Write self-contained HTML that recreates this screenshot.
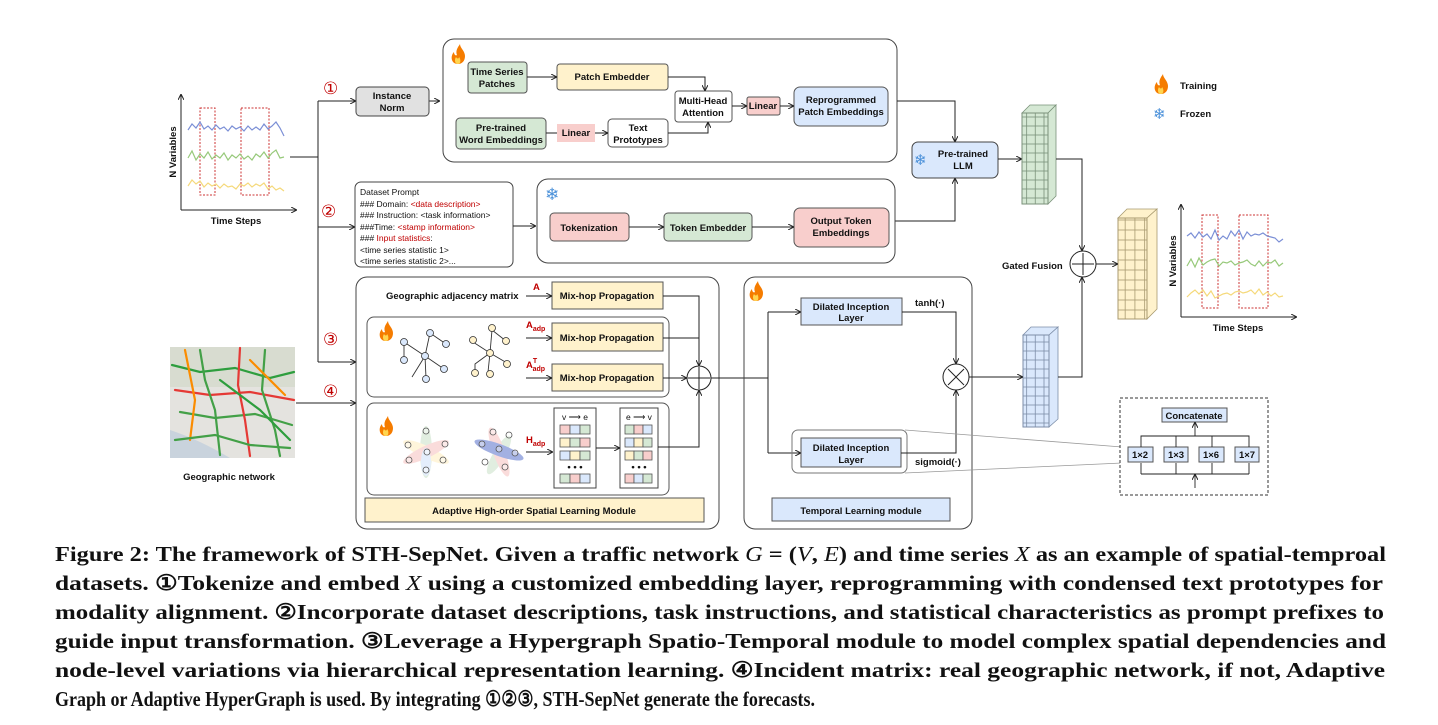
<!DOCTYPE html>
<html><head><meta charset="utf-8">
<style>
html,body{margin:0;padding:0;background:#fff;}
svg{display:block;}
text{font-family:"Liberation Sans",Arial,sans-serif;}
.b{font-weight:bold;font-size:9.5px;fill:#111;}
.s{font-size:8.5px;fill:#111;}
.r{fill:#c00000;}
.cap{font-family:"Liberation Serif","DejaVu Serif",serif;font-weight:bold;font-size:21.5px;fill:#111;}
</style></head>
<body>
<svg width="1438" height="725" viewBox="0 0 1438 725" xmlns="http://www.w3.org/2000/svg">
<defs>
<marker id="ar" markerWidth="6" markerHeight="6" refX="5" refY="3" orient="auto" markerUnits="userSpaceOnUse"><path d="M0,0 L6,3 L0,6" fill="none" stroke="#222" stroke-width="1"/></marker>
<pattern id="gG" width="8.7" height="9" patternUnits="userSpaceOnUse"><rect width="8.7" height="9" fill="#d5e8d4" stroke="#7a917a" stroke-width="0.8"/></pattern>
<pattern id="gY" width="9.7" height="10" patternUnits="userSpaceOnUse"><rect width="9.7" height="10" fill="#fff2cc" stroke="#a89a70" stroke-width="0.8"/></pattern>
<pattern id="gB" width="8.7" height="9" patternUnits="userSpaceOnUse"><rect width="8.7" height="9" fill="#dae8fc" stroke="#7d8ea8" stroke-width="0.8"/></pattern>
<g id="flame"><path d="M0,14 C-7,14 -8,6 -4,2 C-4,5 -2,6 -1,5 C-3,0 1,-4 2,-6 C2,-2 7,1 7,6 C7,11 4,14 0,14Z" fill="#f57c00"/><path d="M0,14 C-3,14 -4,10 -2,7 C-1,9 1,9 1,7 C3,9 3,14 0,14Z" fill="#ffd54f"/></g>
</defs>

<g stroke="#222" stroke-width="1" fill="none">
<path d="M181,210 V95" marker-end="url(#ar)"/>
<path d="M181,210 H296" marker-end="url(#ar)"/>
</g>
<rect x="200" y="108" width="15" height="87" fill="none" stroke="#c33" stroke-dasharray="2,1.5"/>
<rect x="241" y="108" width="28" height="87" fill="none" stroke="#c33" stroke-dasharray="2,1.5"/>
<polyline points="188,130 192,124 196,128 200,122 204,129 208,126 212,130 216,125 220,129 224,127 228,131 232,126 236,129 240,127 244,131 248,126 252,130 256,127 260,130 264,124 268,129 272,126 276,122 280,128 284,136" fill="none" stroke="#7b8fd6" stroke-width="1.2"/>
<polyline points="188,158 192,151 196,160 200,154 204,158 208,152 212,159 216,155 220,158 224,153 228,160 232,155 236,158 240,154 244,159 248,156 252,160 256,154 260,157 264,152 268,158 272,153 276,150 280,158 284,157" fill="none" stroke="#97c97a" stroke-width="1.2"/>
<polyline points="188,186 192,180 196,184 200,181 204,187 208,183 212,186 216,184 220,188 224,184 228,187 232,186 236,189 240,184 244,186 248,183 252,187 256,184 260,186 264,183 268,189 272,186 276,190 280,188 284,191" fill="none" stroke="#f5d97a" stroke-width="1.2"/>
<text class="b" transform="translate(176,152) rotate(-90)" text-anchor="middle">N Variables</text>
<text class="b" x="236" y="224" text-anchor="middle">Time Steps</text>

<g stroke="#222" stroke-width="1" fill="none">
<path d="M290,157 H318"/>
<path d="M318,101 V362"/>
<path d="M318,101 H355" marker-end="url(#ar)"/>
<path d="M318,227 H354" marker-end="url(#ar)"/>
<path d="M318,362 H355" marker-end="url(#ar)"/>
<path d="M296,403 H355" marker-end="url(#ar)"/>
<path d="M429,101 H439" marker-end="url(#ar)"/>
</g>
<g font-family="'DejaVu Sans',sans-serif" font-size="17" fill="#c00000">
<text x="323" y="94">①</text><text x="321" y="217">②</text><text x="323" y="345">③</text><text x="323" y="397">④</text>
</g>

<rect x="356" y="87" width="73" height="29" rx="4" fill="#e1e1e1" stroke="#444"/>
<text class="b" x="392" y="99" text-anchor="middle" font-size="10">Instance</text>
<text class="b" x="392" y="111" text-anchor="middle" font-size="10">Norm</text>

<rect x="443" y="39" width="454" height="123" rx="11" fill="none" stroke="#444"/>
<use href="#flame" x="458" y="50"/>
<rect x="468" y="62" width="59" height="31" rx="3" fill="#d5e8d4" stroke="#555"/>
<text class="b" x="497" y="75" text-anchor="middle">Time Series</text><text class="b" x="497" y="87" text-anchor="middle">Patches</text>
<rect x="557" y="64" width="111" height="26" rx="3" fill="#fff2cc" stroke="#555"/>
<text class="b" x="612" y="80" text-anchor="middle">Patch  Embedder</text>
<rect x="675" y="91" width="57" height="31" rx="3" fill="#fff" stroke="#555"/>
<text class="b" x="703" y="104" text-anchor="middle">Multi-Head</text><text class="b" x="703" y="116" text-anchor="middle">Attention</text>
<rect x="747" y="97" width="33" height="18" rx="2" fill="#f8cecc" stroke="#555"/>
<text class="b" x="763" y="109" text-anchor="middle">Linear</text>
<rect x="794" y="87" width="94" height="39" rx="6" fill="#dae8fc" stroke="#555"/>
<text class="b" x="841" y="103" text-anchor="middle">Reprogrammed</text><text class="b" x="841" y="115" text-anchor="middle">Patch Embeddings</text>
<rect x="456" y="118" width="90" height="31" rx="4" fill="#d5e8d4" stroke="#555"/>
<text class="b" x="501" y="131" text-anchor="middle">Pre-trained</text><text class="b" x="501" y="143" text-anchor="middle">Word Embeddings</text>
<rect x="557" y="124" width="38" height="18" fill="#f8cecc"/>
<text class="b" x="576" y="136" text-anchor="middle">Linear</text>
<rect x="608" y="119" width="60" height="28" rx="4" fill="#fff" stroke="#555"/>
<text class="b" x="638" y="131" text-anchor="middle">Text</text><text class="b" x="638" y="143" text-anchor="middle">Prototypes</text>
<g stroke="#222" fill="none">
<path d="M527,77 H556" marker-end="url(#ar)"/>
<path d="M668,77 H705 V90" marker-end="url(#ar)"/>
<path d="M668,133 H708 V123" marker-end="url(#ar)"/>
<path d="M546,133 H557"/><path d="M595,133 H607" marker-end="url(#ar)"/>
<path d="M732,106 H746" marker-end="url(#ar)"/>
<path d="M780,106 H793" marker-end="url(#ar)"/>
<path d="M897,101 H955 V141" marker-end="url(#ar)"/>
<path d="M895,221 H955 V179" marker-end="url(#ar)"/>
</g>

<rect x="355" y="182" width="158" height="85" rx="6" fill="#fff" stroke="#444"/>
<g class="s">
<text x="360" y="195">Dataset Prompt</text>
<text x="360" y="207">### Domain: <tspan class="r">&lt;data description&gt;</tspan></text>
<text x="360" y="218">### Instruction: &lt;task information&gt;</text>
<text x="360" y="230">###Time: <tspan class="r">&lt;stamp information&gt;</tspan></text>
<text x="360" y="241">### <tspan class="r">Input statistics</tspan>:</text>
<text x="360" y="253">&lt;time series statistic 1&gt;</text>
<text x="360" y="264">&lt;time series statistic 2&gt;...</text>
</g>
<path d="M513,226 H535" stroke="#222" fill="none" marker-end="url(#ar)"/>
<rect x="537" y="179" width="358" height="84" rx="11" fill="none" stroke="#444"/>
<text x="545" y="200" font-family="'DejaVu Sans',sans-serif" font-size="17" fill="#4a90d9">❄</text>
<rect x="550" y="213" width="79" height="28" rx="4" fill="#f8cecc" stroke="#555"/>
<text class="b" x="589" y="231" text-anchor="middle">Tokenization</text>
<rect x="664" y="213" width="88" height="28" rx="4" fill="#d5e8d4" stroke="#555"/>
<text class="b" x="708" y="231" text-anchor="middle">Token Embedder</text>
<rect x="794" y="208" width="95" height="39" rx="6" fill="#f8cecc" stroke="#555"/>
<text class="b" x="841" y="224" text-anchor="middle">Output Token</text><text class="b" x="841" y="236" text-anchor="middle">Embeddings</text>
<g stroke="#222" fill="none">
<path d="M629,227 H663" marker-end="url(#ar)"/>
<path d="M752,227 H793" marker-end="url(#ar)"/>
</g>

<rect x="912" y="142" width="86" height="36" rx="6" fill="#dae8fc" stroke="#444"/>
<text x="914" y="165" font-family="'DejaVu Sans',sans-serif" font-size="15" fill="#4a90d9">❄</text>
<text class="b" x="963" y="157" text-anchor="middle" font-size="10.5">Pre-trained</text><text class="b" x="963" y="169" text-anchor="middle" font-size="10.5">LLM</text>
<path d="M998,159 H1021" stroke="#222" fill="none" marker-end="url(#ar)"/>

<polygon points="1022,113 1030,105 1056,105 1048,113" fill="#d5e8d4" stroke="#7a917a" stroke-width="0.8"/>
<polygon points="1048,113 1056,105 1056,196 1048,204" fill="#d5e8d4" stroke="#7a917a" stroke-width="0.8"/>
<rect x="1022" y="113" width="26" height="91" fill="url(#gG)" stroke="#7a917a"/>
<polygon points="1118,218 1127,209 1157,209 1147,218" fill="#fff2cc" stroke="#a89a70" stroke-width="0.8"/>
<polygon points="1147,218 1157,209 1157,309 1147,319" fill="#fff2cc" stroke="#a89a70" stroke-width="0.8"/>
<rect x="1118" y="218" width="29" height="101" fill="url(#gY)" stroke="#a89a70"/>
<polygon points="1023,335 1031,327 1058,327 1049,335" fill="#dae8fc" stroke="#7d8ea8" stroke-width="0.8"/>
<polygon points="1049,335 1058,327 1058,419 1049,427" fill="#dae8fc" stroke="#7d8ea8" stroke-width="0.8"/>
<rect x="1023" y="335" width="26" height="92" fill="url(#gB)" stroke="#7d8ea8"/>

<g stroke="#222" fill="none">
<path d="M1056,159 H1082 V250" marker-end="url(#ar)"/>
<path d="M1058,377 H1082 V278" marker-end="url(#ar)"/>
<path d="M1096,264 H1117" marker-end="url(#ar)"/>
<circle cx="1083" cy="264" r="13" fill="#fff"/>
<path d="M1083,253 V275 M1072,264 H1094"/>
</g>
<text class="b" x="1002" y="269" font-size="10">Gated Fusion</text>

<use href="#flame" x="1161" y="80"/>
<text class="b" x="1180" y="89">Training</text>
<text x="1153" y="119" font-family="'DejaVu Sans',sans-serif" font-size="15" fill="#4a90d9">❄</text>
<text class="b" x="1180" y="117">Frozen</text>

<g stroke="#222" fill="none">
<path d="M1181,317 V205" marker-end="url(#ar)"/>
<path d="M1181,317 H1296" marker-end="url(#ar)"/>
</g>
<rect x="1202" y="215" width="16" height="93" fill="none" stroke="#c33" stroke-dasharray="2,1.5"/>
<rect x="1239" y="215" width="29" height="93" fill="none" stroke="#c33" stroke-dasharray="2,1.5"/>
<polyline points="1187,236 1191,233 1195,238 1199,232 1203,237 1207,234 1211,239 1215,230 1219,240 1223,236 1227,239 1231,231 1235,236 1239,230 1243,239 1247,232 1251,236 1255,234 1259,235 1263,233 1267,236 1271,237 1275,238 1279,242 1283,239" fill="none" stroke="#7b8fd6" stroke-width="1.2"/>
<polyline points="1187,266 1191,259 1195,267 1199,258 1203,265 1207,262 1211,260 1215,259 1219,266 1223,262 1227,263 1231,261 1235,265 1239,263 1243,262 1247,260 1251,264 1255,266 1259,261 1263,266 1267,262 1271,263 1275,260 1279,266 1283,263" fill="none" stroke="#97c97a" stroke-width="1.2"/>
<polyline points="1187,297 1191,293 1195,290 1199,294 1203,290 1207,296 1211,291 1215,298 1219,296 1223,294 1227,293 1231,295 1235,292 1239,291 1243,293 1247,292 1251,290 1255,294 1259,289 1263,295 1267,292 1271,296 1275,293 1279,297 1283,296" fill="none" stroke="#f5d97a" stroke-width="1.2"/>
<text class="b" transform="translate(1176,261) rotate(-90)" text-anchor="middle">N Variables</text>
<text class="b" x="1238" y="331" text-anchor="middle">Time Steps</text>

<rect x="170" y="347" width="125" height="111" fill="#e4e3df"/>
<rect x="170" y="347" width="125" height="40" fill="#d8dcd0"/>
<path d="M170,430 Q200,440 230,458 L170,458Z" fill="#c9d3dd"/>
<g fill="none" stroke-width="2.2" stroke-linecap="round">
<path d="M172,365 L200,372 L235,368 L270,378 L294,372" stroke="#2e9e3e"/>
<path d="M175,390 L210,395 L250,392 L294,400" stroke="#e53935"/>
<path d="M180,412 L215,418 L255,414 L292,425" stroke="#43a047"/>
<path d="M200,350 L205,380 L215,410 L220,455" stroke="#43a047"/>
<path d="M240,348 L238,385 L245,420 L250,456" stroke="#e53935"/>
<path d="M265,350 L262,390 L275,430 L280,456" stroke="#43a047"/>
<path d="M185,350 L195,400 L190,440" stroke="#fb8c00"/>
<path d="M220,380 L260,410 L290,440" stroke="#2e9e3e"/>
<path d="M175,440 L215,435 L250,445 L290,448" stroke="#43a047"/>
<path d="M250,360 L285,395" stroke="#fb8c00"/>
</g>
<text class="b" x="229" y="480" text-anchor="middle">Geographic network</text>

<rect x="356" y="277" width="363" height="252" rx="11" fill="none" stroke="#444"/>
<text class="b" x="386" y="299">Geographic adjacency matrix</text>
<text class="b r" x="533" y="290">A</text>
<rect x="552" y="282" width="111" height="27" fill="#fff2cc" stroke="#555"/>
<text class="b" x="607" y="299" text-anchor="middle">Mix-hop Propagation</text>
<rect x="367" y="317" width="302" height="80" rx="7" fill="none" stroke="#555"/>
<use href="#flame" x="386" y="327"/>
<g stroke="#333" stroke-width="0.9" fill="none">
<path d="M404,342 L425,356 L430,333 L446,344 M425,356 L412,377 M425,356 L444,369 M425,356 L426,378 M404,342 L404,358"/>
<path d="M492,330 L490,353 L473,342 M490,353 L475,364 L475,373 M490,353 L507,363 M490,353 L488,372 M492,330 L506,341"/>
</g>
<g fill="#dae8fc" stroke="#333" stroke-width="0.8">
<circle cx="404" cy="342" r="3.5"/><circle cx="430" cy="333" r="3.5"/><circle cx="446" cy="344" r="3.5"/><circle cx="425" cy="356" r="3.5"/><circle cx="404" cy="360" r="3.5"/><circle cx="444" cy="369" r="3.5"/><circle cx="426" cy="379" r="3.5"/>
</g>
<g fill="#fff2cc" stroke="#333" stroke-width="0.8">
<circle cx="492" cy="328" r="3.5"/><circle cx="473" cy="340" r="3.5"/><circle cx="506" cy="341" r="3.5"/><circle cx="490" cy="353" r="3.5"/><circle cx="475" cy="373" r="3.5"/><circle cx="507" cy="364" r="3.5"/><circle cx="490" cy="374" r="3.5"/>
</g>
<text class="b r" x="526" y="328">A<tspan font-size="7" dy="3">adp</tspan></text>
<rect x="552" y="323" width="111" height="28" fill="#fff2cc" stroke="#555"/>
<text class="b" x="607" y="341" text-anchor="middle">Mix-hop Propagation</text>
<text class="b r" x="526" y="368">A<tspan font-size="7" dy="-5">T</tspan><tspan font-size="7" dx="-4" dy="8">adp</tspan></text>
<rect x="552" y="364" width="111" height="27" fill="#fff2cc" stroke="#555"/>
<text class="b" x="607" y="381" text-anchor="middle">Mix-hop Propagation</text>
<rect x="367" y="403" width="302" height="92" rx="7" fill="none" stroke="#555"/>
<use href="#flame" x="386" y="422"/>
<g opacity="0.7">
<ellipse cx="426" cy="452" rx="6" ry="26" fill="#d5e8d4"/>
<ellipse cx="426" cy="452" rx="25" ry="6" fill="#fff2cc" transform="rotate(25 426 452)"/>
<ellipse cx="426" cy="452" rx="25" ry="6" fill="#f8cecc" transform="rotate(-25 426 452)"/>
<ellipse cx="426" cy="462" rx="5" ry="14" fill="#dae8fc"/>
<ellipse cx="499" cy="455" rx="6" ry="22" fill="#d5e8d4" transform="rotate(30 499 455)"/>
<ellipse cx="499" cy="452" rx="6" ry="26" fill="#f8cecc" transform="rotate(-20 499 452)"/>
<ellipse cx="499" cy="450" rx="26" ry="6" fill="#7b8fd6" transform="rotate(20 499 450)"/>
</g>
<g fill="#fff" fill-opacity="0.4" stroke="#555" stroke-width="0.8">
<circle cx="426" cy="431" r="3"/><circle cx="408" cy="445" r="3"/><circle cx="445" cy="444" r="3"/><circle cx="427" cy="452" r="3"/><circle cx="409" cy="460" r="3"/><circle cx="443" cy="460" r="3"/><circle cx="426" cy="470" r="3"/>
<circle cx="493" cy="432" r="3"/><circle cx="509" cy="435" r="3"/><circle cx="482" cy="444" r="3"/><circle cx="499" cy="449" r="3"/><circle cx="515" cy="453" r="3"/><circle cx="485" cy="462" r="3"/><circle cx="505" cy="467" r="3"/>
</g>
<text class="b r" x="526" y="443">H<tspan font-size="7" dy="3">adp</tspan></text>
<path d="M526,452 H552" stroke="#222" fill="none" marker-end="url(#ar)"/>
<rect x="554" y="408" width="42" height="80" fill="#fff" stroke="#444"/>
<rect x="620" y="408" width="38" height="80" fill="#fff" stroke="#444"/>
<text class="s" x="575" y="420" text-anchor="middle">v ⟶ e</text>
<text class="s" x="639" y="420" text-anchor="middle">e ⟶ v</text>
<g stroke="#555" stroke-width="0.8">
<rect x="560" y="425" width="10" height="9" fill="#f8cecc"/><rect x="570" y="425" width="10" height="9" fill="#dae8fc"/><rect x="580" y="425" width="10" height="9" fill="#d5e8d4"/>
<rect x="560" y="438" width="10" height="9" fill="#fff2cc"/><rect x="570" y="438" width="10" height="9" fill="#d5e8d4"/><rect x="580" y="438" width="10" height="9" fill="#f8cecc"/>
<rect x="560" y="451" width="10" height="9" fill="#dae8fc"/><rect x="570" y="451" width="10" height="9" fill="#fff2cc"/><rect x="580" y="451" width="10" height="9" fill="#d5e8d4"/>
<rect x="560" y="474" width="10" height="9" fill="#d5e8d4"/><rect x="570" y="474" width="10" height="9" fill="#f8cecc"/><rect x="580" y="474" width="10" height="9" fill="#dae8fc"/>
<rect x="625" y="425" width="9" height="9" fill="#d5e8d4"/><rect x="634" y="425" width="9" height="9" fill="#f8cecc"/><rect x="643" y="425" width="9" height="9" fill="#dae8fc"/>
<rect x="625" y="438" width="9" height="9" fill="#dae8fc"/><rect x="634" y="438" width="9" height="9" fill="#fff2cc"/><rect x="643" y="438" width="9" height="9" fill="#d5e8d4"/>
<rect x="625" y="451" width="9" height="9" fill="#fff2cc"/><rect x="634" y="451" width="9" height="9" fill="#d5e8d4"/><rect x="643" y="451" width="9" height="9" fill="#f8cecc"/>
<rect x="625" y="474" width="9" height="9" fill="#f8cecc"/><rect x="634" y="474" width="9" height="9" fill="#dae8fc"/><rect x="643" y="474" width="9" height="9" fill="#d5e8d4"/>
</g>
<text class="b" x="575" y="470" text-anchor="middle">• • •</text>
<text class="b" x="639" y="470" text-anchor="middle">• • •</text>
<rect x="365" y="498" width="339" height="24" fill="#fff2cc" stroke="#555"/>
<text class="b" x="534" y="514" text-anchor="middle">Adaptive  High-order Spatial Learning Module</text>
<g stroke="#222" fill="none">
<path d="M526,296 H551" marker-end="url(#ar)"/>
<path d="M526,338 H551" marker-end="url(#ar)"/>
<path d="M526,378 H551" marker-end="url(#ar)"/>
<path d="M663,296 H699 V365" marker-end="url(#ar)"/>
<path d="M663,338 H699"/>
<path d="M663,378 H686" marker-end="url(#ar)"/>
<path d="M596,448 H619" marker-end="url(#ar)"/>
<path d="M658,447 H699 V391" marker-end="url(#ar)"/>
<circle cx="699" cy="378" r="12" fill="#fff"/>
<path d="M699,367 V389 M688,378 H710"/>
<path d="M711,378 H768"/>
<path d="M768,312 V453"/>
<path d="M768,312 H800" marker-end="url(#ar)"/>
<path d="M768,453 H800" marker-end="url(#ar)"/>
</g>

<rect x="744" y="277" width="228" height="252" rx="11" fill="none" stroke="#444"/>
<use href="#flame" x="756" y="287"/>
<rect x="801" y="298" width="101" height="27" fill="#dae8fc" stroke="#555"/>
<text class="b" x="851" y="310" text-anchor="middle">Dilated Inception</text><text class="b" x="851" y="321" text-anchor="middle">Layer</text>
<rect x="792" y="430" width="115" height="43" rx="6" fill="none" stroke="#777"/>
<rect x="801" y="438" width="100" height="29" fill="#dae8fc" stroke="#555"/>
<text class="b" x="851" y="451" text-anchor="middle">Dilated Inception</text><text class="b" x="851" y="463" text-anchor="middle">Layer</text>
<text class="b" x="915" y="306">tanh(·)</text>
<text class="b" x="915" y="465">sigmoid(·)</text>
<rect x="772" y="498" width="178" height="23" fill="#dae8fc" stroke="#555"/>
<text class="b" x="861" y="514" text-anchor="middle">Temporal  Learning module</text>
<g stroke="#222" fill="none">
<path d="M902,312 H956 V363" marker-end="url(#ar)"/>
<path d="M901,453 H956 V391" marker-end="url(#ar)"/>
<circle cx="956" cy="377" r="13" fill="#fff"/>
<path d="M948,369 L964,385 M964,369 L948,385"/>
<path d="M969,377 H1022" marker-end="url(#ar)"/>
</g>
<g stroke="#999" stroke-width="0.8" fill="none">
<path d="M905,430 L1122,447"/><path d="M905,473 L1122,463"/>
</g>

<rect x="1120" y="398" width="148" height="97" fill="#fff" stroke="#333" stroke-dasharray="3,2"/>
<rect x="1162" y="408" width="65" height="14" fill="#dae8fc" stroke="#555"/>
<text class="b" x="1194" y="419" text-anchor="middle" font-size="8.5">Concatenate</text>
<g fill="#dae8fc" stroke="#555">
<rect x="1128" y="447" width="25" height="15"/><rect x="1164" y="447" width="24" height="15"/><rect x="1199" y="447" width="25" height="15"/><rect x="1235" y="447" width="24" height="15"/>
</g>
<g class="b" font-size="8.5" text-anchor="middle">
<text x="1140" y="458">1×2</text><text x="1176" y="458">1×3</text><text x="1211" y="458">1×6</text><text x="1247" y="458">1×7</text>
</g>
<g stroke="#222" fill="none" stroke-width="0.9">
<path d="M1141,447 V436 H1249 V447 M1176,436 V447 M1212,436 V447"/>
<path d="M1195,436 V423" marker-end="url(#ar)"/>
<path d="M1141,474 H1249"/>
<path d="M1141,474 V463 M1176,474 V463 M1212,474 V463 M1249,474 V463"/>
<path d="M1195,488 V475" marker-end="url(#ar)"/>
</g>

<text class="cap" x="55" y="561" textLength="1331" lengthAdjust="spacingAndGlyphs">Figure 2: The framework of STH-SepNet. Given a traffic network <tspan font-style="italic" font-weight="normal">G</tspan> = (<tspan font-style="italic" font-weight="normal">V</tspan>, <tspan font-style="italic" font-weight="normal">E</tspan>) and time series <tspan font-style="italic" font-weight="normal">X</tspan> as an example of spatial-temproal</text>
<text class="cap" x="55" y="590" textLength="1328" lengthAdjust="spacingAndGlyphs">datasets. ①Tokenize and embed <tspan font-style="italic" font-weight="normal">X</tspan> using a customized embedding layer, reprogramming with condensed text prototypes for</text>
<text class="cap" x="55" y="619" textLength="1329" lengthAdjust="spacingAndGlyphs">modality alignment. ②Incorporate dataset descriptions, task instructions, and statistical characteristics as prompt prefixes to</text>
<text class="cap" x="55" y="648" textLength="1331" lengthAdjust="spacingAndGlyphs">guide input transformation. ③Leverage a Hypergraph Spatio-Temporal module to model complex spatial dependencies and</text>
<text class="cap" x="55" y="677" textLength="1330" lengthAdjust="spacingAndGlyphs">node-level variations via hierarchical representation learning. ④Incident matrix: real geographic network, if not, Adaptive</text>
<text class="cap" x="55" y="706" textLength="760" lengthAdjust="spacingAndGlyphs">Graph or Adaptive HyperGraph is used. By integrating ①②③, STH-SepNet generate the forecasts.</text>
</svg>
</body></html>
